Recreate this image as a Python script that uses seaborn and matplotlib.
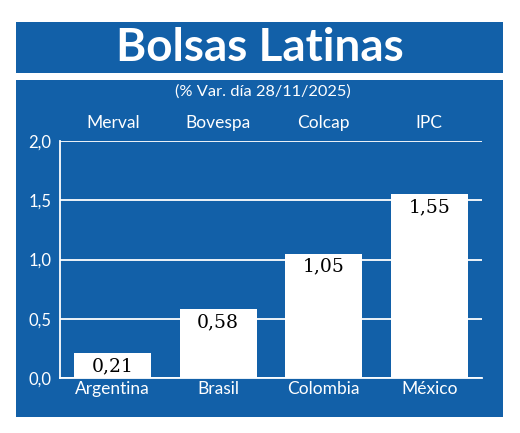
import matplotlib
matplotlib.use("Agg")
import matplotlib.pyplot as plt
from matplotlib.patches import Rectangle
import seaborn as sns
import pandas as pd

# datos del gráfico
paises = ["Argentina", "Brasil", "Colombia", "México"]
indices = ["Merval", "Bovespa", "Colcap", "IPC"]
variacion = [0.21, 0.58, 1.05, 1.55]
yticks = [0.0, 0.5, 1.0, 1.5, 2.0]
titulo = "Bolsas Latinas"
subtitulo = "(% Var. día 28/11/2025)"

AZUL = "#1260a8"
SANS = ["Lato", "DejaVu Sans"]

sns.set_theme(style="white")
plt.rcParams["font.family"] = SANS

df = pd.DataFrame({"pais": paises, "var": variacion})

fig = plt.figure(figsize=(5.2, 4.33), dpi=100)
fig.patch.set_facecolor("white")

# cajas de fondo
fig.patches.append(Rectangle((16 / 520, 1 - 73 / 433), 487 / 520, 51 / 433,
                             transform=fig.transFigure, facecolor=AZUL,
                             edgecolor="none", zorder=-1))
fig.patches.append(Rectangle((16 / 520, 1 - 417 / 433), 487 / 520, 337.5 / 433,
                             transform=fig.transFigure, facecolor=AZUL,
                             edgecolor="none", zorder=-1))

fig.text(0.5, 1 - 48 / 433, titulo, ha="center", va="center", color="white",
         fontsize=33, fontweight="bold", family=SANS)
fig.text(263 / 520, 1 - 92 / 433, subtitulo, ha="center", va="center",
         color="white", fontsize=11.8, family=SANS)

ax = fig.add_axes([60 / 520, 1 - 378 / 433, 422 / 520, 237 / 433])
ax.set_zorder(2)
ax.set_facecolor("none")
ax.set_axisbelow(True)

sns.barplot(data=df, x="pais", y="var", color="white", width=0.73,
            saturation=1, edgecolor="none", ax=ax)

ax.set_ylim(0, 2.0)
ax.set_xlim(-0.5, 3.5)
ax.set_yticks(yticks)
ax.set_yticklabels([f"{t:.1f}".replace(".", ",") for t in yticks])
ax.yaxis.grid(True, color="white", linewidth=1.3)
ax.tick_params(axis="y", colors="white", labelsize=12, length=0, pad=6)
ax.tick_params(axis="x", colors="white", labelsize=12.5, length=0, pad=2)
ax.set_xticks([0.5, 1.5, 2.5, 3.5], minor=True)
ax.tick_params(axis="x", which="minor", direction="in", length=6,
               width=1.2, color="white")
ax.set_xlabel("")
ax.set_ylabel("")

for side in ["top", "right"]:
    ax.spines[side].set_visible(False)
for side in ["left", "bottom"]:
    ax.spines[side].set_color("white")
    ax.spines[side].set_linewidth(1.3)

# índices arriba
for i, nombre in enumerate(indices):
    ax.text(i, 2.0 + 0.15, nombre, ha="center", va="center", color="white",
            fontsize=12.5, family=SANS)

# valores dentro de las barras
for i, v in enumerate(variacion):
    ax.annotate(f"{v:.2f}".replace(".", ","), (i, v), xytext=(0, -3),
                textcoords="offset points", ha="center", va="top",
                color="black", fontsize=13.5, family=["DejaVu Serif"])

fig.savefig("out.png", dpi=100)
